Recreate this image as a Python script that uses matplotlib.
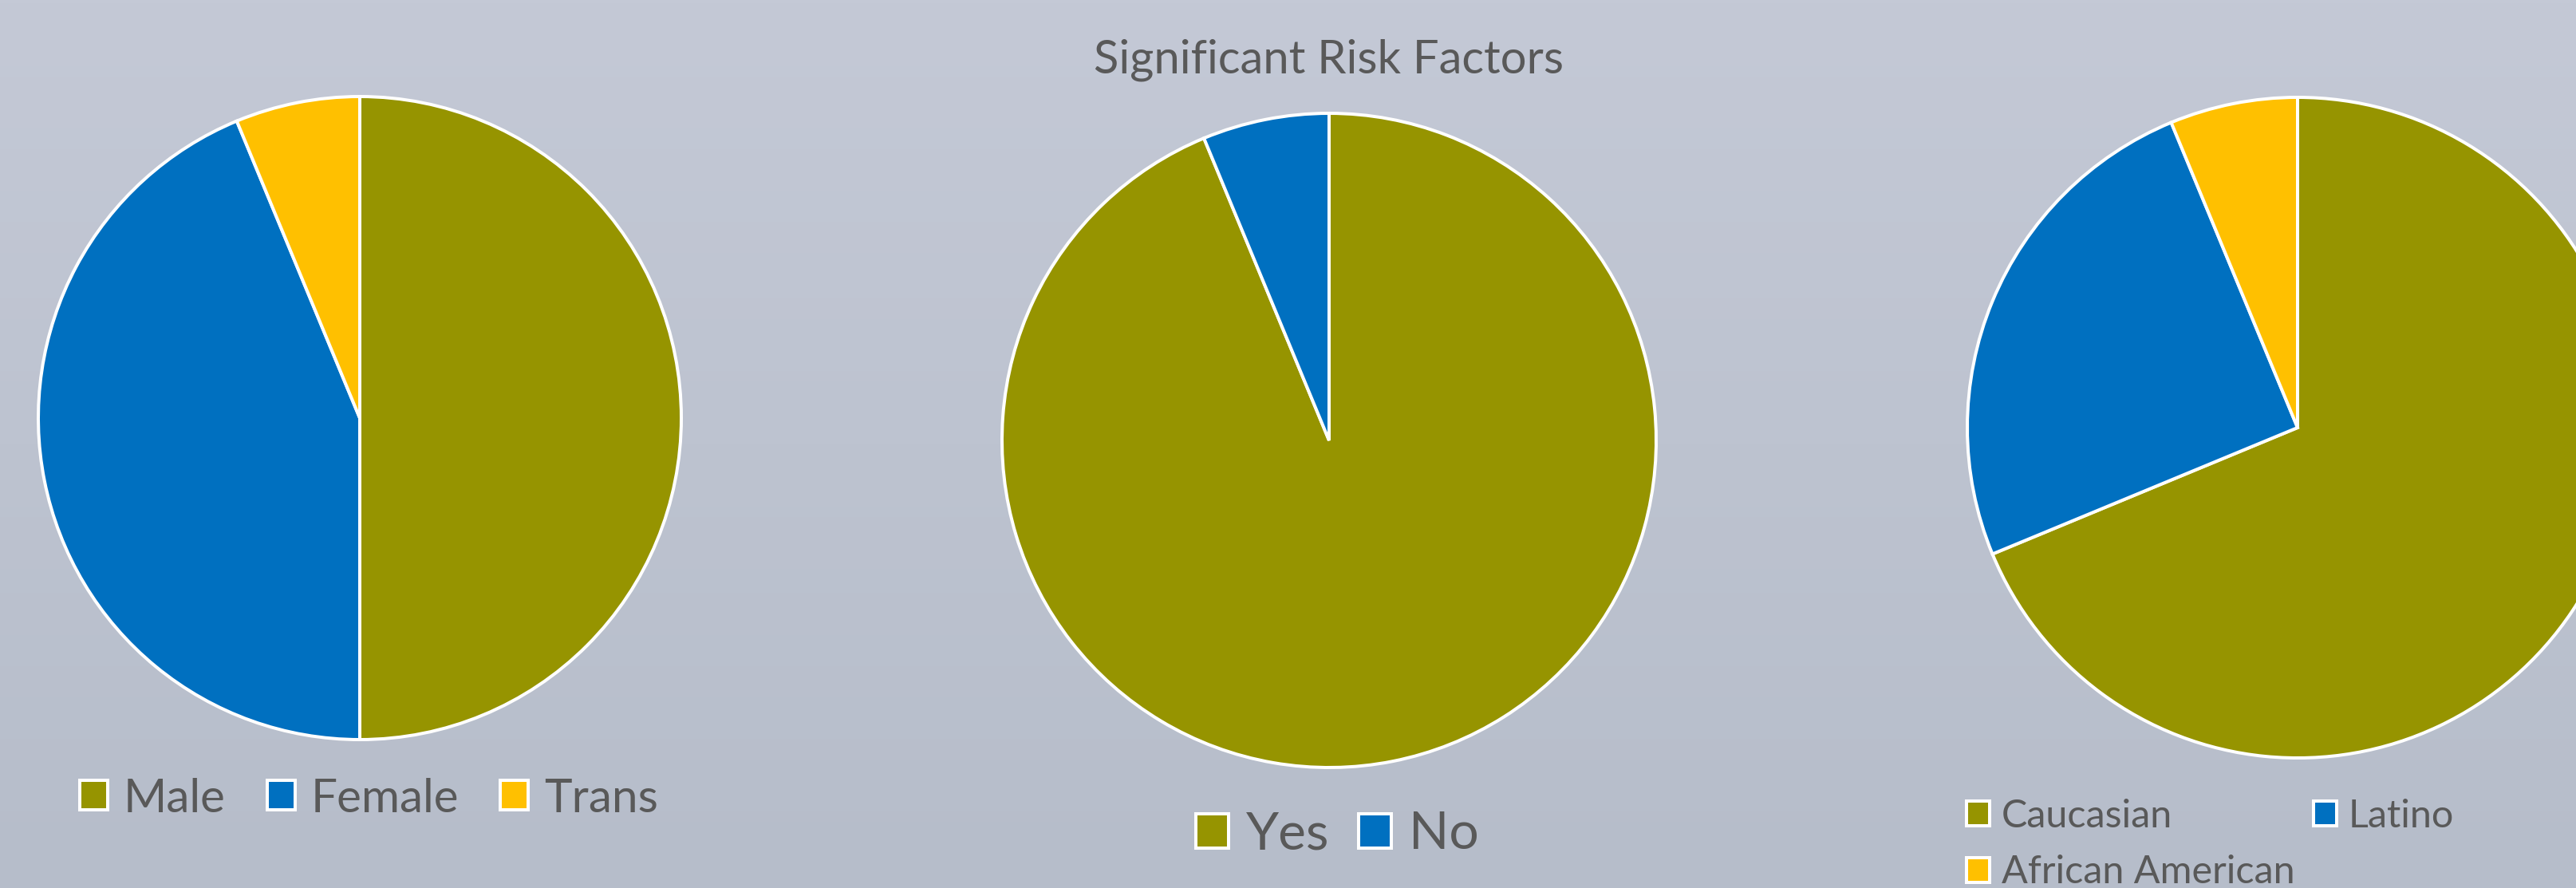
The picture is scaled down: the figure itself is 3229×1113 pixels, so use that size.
import numpy as np
import matplotlib
matplotlib.use("Agg")
import matplotlib.pyplot as plt
from matplotlib.patches import Patch

# data (counts out of 16 respondents)
title = "Significant Risk Factors"

gender_labels = ["Male", "Female", "Trans"]
gender_values = [8, 7, 1]

risk_labels = ["Yes", "No"]
risk_values = [15, 1]

race_labels = ["Caucasian", "Latino", "African American"]
race_values = [11, 4, 1]

OLIVE = "#969400"
BLUE = "#0070C0"
GOLD = "#FFC000"
TEXT = "#595959"

W, H, DPI = 3229, 1113, 100
plt.rcParams["font.family"] = ["Lato", "DejaVu Sans"]

fig = plt.figure(figsize=(W / DPI, H / DPI), dpi=DPI)

# gradient background
bg = fig.add_axes([0, 0, 1, 1], zorder=-10)
top = np.array([196, 201, 214]) / 255
bot = np.array([182, 189, 202]) / 255
t = np.linspace(0, 1, 256)[:, None]
grad = top[None, :] * (1 - t) + bot[None, :] * t
bg.imshow(grad[:, None, :], aspect="auto", extent=[0, 1, 0, 1])
bg.axis("off")

px = 72 / DPI  # points per pixel
edge_lw = 4 * px


def pie_axes(cx, cy, r):
    return fig.add_axes([(cx - r) / W, 1 - (cy + r) / H, 2 * r / W, 2 * r / H])


def draw_pie(ax, values, colors):
    wedges, _ = ax.pie(values, colors=colors, startangle=90, counterclock=False,
                       wedgeprops=dict(edgecolor="white", linewidth=edge_lw))
    for w in wedges:
        w.set_clip_on(False)
    ax.set_xlim(-1, 1)
    ax.set_ylim(-1, 1)
    ax.axis("off")


def add_legend(labels, colors, x, y, fs_px, box_px, pad_px, col_px, ncol, lab_sp=0.5):
    handles = [Patch(facecolor=c, edgecolor="white", linewidth=edge_lw) for c in colors]
    fig.legend(handles, labels, loc="center left", bbox_to_anchor=(x / W, 1 - y / H),
               ncol=ncol, frameon=False, fontsize=fs_px * px, labelcolor=TEXT,
               handlelength=box_px / fs_px, handleheight=box_px / fs_px,
               handletextpad=pad_px / fs_px, columnspacing=col_px / fs_px,
               labelspacing=lab_sp, borderpad=0, borderaxespad=0)


# left: gender
ax1 = pie_axes(451, 524, 403)
draw_pie(ax1, gender_values, [OLIVE, BLUE, GOLD])
add_legend(gender_labels, [OLIVE, BLUE, GOLD], 100, 1001, 58.5, 35, 20, 52, 3)

# middle: risk
ax2 = pie_axes(1666, 552, 410)
draw_pie(ax2, risk_values, [OLIVE, BLUE])
add_legend(risk_labels, [OLIVE, BLUE], 1499, 1046, 66, 41, 22, 36, 2)

# right: ethnicity
ax3 = pie_axes(2880, 536, 414)
draw_pie(ax3, race_values, [OLIVE, BLUE, GOLD])
order = [0, 2, 1]
add_legend([race_labels[i] for i in order], [[OLIVE, BLUE, GOLD][i] for i in order],
           2465, 1058, 48.5, 29, 15, 23, 2, lab_sp=0.55)

fig.text(1666 / W, 1 - 91 / H, title, ha="center", va="baseline",
         fontsize=58 * px, color=TEXT)

fig.savefig("out.png", dpi=DPI)
